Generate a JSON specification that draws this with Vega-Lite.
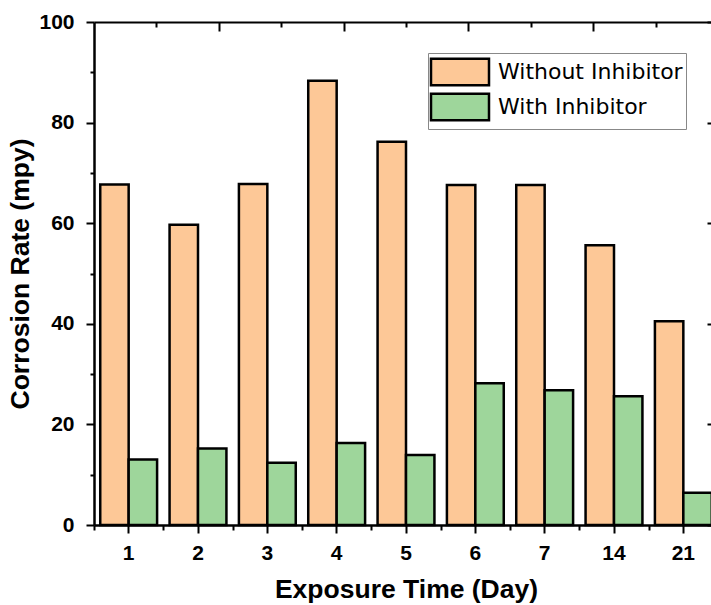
{
  "$schema": "https://vega.github.io/schema/vega-lite/v6.json",
  "width": 617,
  "height": 503,
  "autosize": {"type": "none"},
  "padding": {"left": 94, "top": 22, "right": 0, "bottom": 80},
  "background": "white",
  "config": {
    "view": {"stroke": null},
    "axis": {"grid": false, "domainColor": "black", "tickColor": "black", "labelColor": "black", "titleColor": "black"}
  },
  "data": {
    "values": [
      {"Day": "1", "Series": "Without Inhibitor", "Rate": 67.7},
      {"Day": "1", "Series": "With Inhibitor", "Rate": 13.0},
      {"Day": "2", "Series": "Without Inhibitor", "Rate": 59.7},
      {"Day": "2", "Series": "With Inhibitor", "Rate": 15.2},
      {"Day": "3", "Series": "Without Inhibitor", "Rate": 67.8},
      {"Day": "3", "Series": "With Inhibitor", "Rate": 12.4},
      {"Day": "4", "Series": "Without Inhibitor", "Rate": 88.3},
      {"Day": "4", "Series": "With Inhibitor", "Rate": 16.3},
      {"Day": "5", "Series": "Without Inhibitor", "Rate": 76.2},
      {"Day": "5", "Series": "With Inhibitor", "Rate": 13.9},
      {"Day": "6", "Series": "Without Inhibitor", "Rate": 67.6},
      {"Day": "6", "Series": "With Inhibitor", "Rate": 28.2},
      {"Day": "7", "Series": "Without Inhibitor", "Rate": 67.6},
      {"Day": "7", "Series": "With Inhibitor", "Rate": 26.8},
      {"Day": "14", "Series": "Without Inhibitor", "Rate": 55.6},
      {"Day": "14", "Series": "With Inhibitor", "Rate": 25.6},
      {"Day": "21", "Series": "Without Inhibitor", "Rate": 40.5},
      {"Day": "21", "Series": "With Inhibitor", "Rate": 6.4}
    ]
  },
  "layer": [
    {
      "mark": {"type": "bar", "stroke": "black", "strokeWidth": 2.5, "strokeJoin": "miter"},
      "encoding": {
        "x": {
          "field": "Day", "type": "nominal",
          "sort": ["1", "2", "3", "4", "5", "6", "7", "14", "21"],
          "scale": {"range": [0, 624], "paddingInner": 0.18, "paddingOuter": 0.09},
          "axis": {
            "orient": "bottom", "title": "Exposure Time (Day)",
            "labelAngle": 0, "labelFont": "Liberation Sans", "labelFontWeight": "bold", "labelFontSize": 21,
            "labelPadding": 9, "tickSize": 8, "tickWidth": 2, "domainWidth": 2.5,
            "titleFont": "Liberation Sans", "titleFontWeight": "bold", "titleFontSize": 26.5, "titlePadding": 13
          }
        },
        "xOffset": {"field": "Series", "type": "nominal", "sort": ["Without Inhibitor", "With Inhibitor"], "scale": {"paddingInner": 0, "paddingOuter": 0}},
        "y": {
          "field": "Rate", "type": "quantitative",
          "scale": {"domain": [0, 100], "nice": false},
          "axis": {
            "orient": "left", "title": "Corrosion Rate (mpy)",
            "values": [0, 10, 20, 30, 40, 50, 60, 70, 80, 90, 100],
            "labelExpr": "datum.value % 20 === 0 ? datum.label : ''",
            "labelFont": "Liberation Sans", "labelFontWeight": "bold", "labelFontSize": 21, "labelPadding": 12,
            "tickSize": {"condition": {"test": "datum.value % 20 === 0", "value": 8}, "value": 4},
            "tickWidth": 2, "domainWidth": 2.5,
            "titleFont": "Liberation Sans", "titleFontWeight": "bold", "titleFontSize": 26.5, "titlePadding": 4
          }
        },
        "color": {
          "field": "Series", "type": "nominal",
          "sort": ["Without Inhibitor", "With Inhibitor"],
          "scale": {"domain": ["Without Inhibitor", "With Inhibitor"], "range": ["#FDC897", "#9ED69B"]},
          "legend": {
            "title": null, "orient": "none", "legendX": 334, "legendY": 31,
            "symbolType": "M-2,-0.92H2V0.92H-2Z", "symbolSize": 841,
            "symbolOffset": 13,
            "symbolStrokeColor": "black", "symbolStrokeWidth": 2.5, "symbolOpacity": 1,
            "labelFont": "DejaVu Sans", "labelFontSize": 22, "labelColor": "black", "labelOffset": 22,
            "labelLimit": 400, "rowPadding": -9, "padding": 3,
            "strokeColor": "#888888", "fillColor": "white"
          }
        }
      }
    },
    {
      "mark": {"type": "rule", "opacity": 0},
      "encoding": {
        "x": {
          "datum": 0, "type": "quantitative",
          "scale": {"domain": [0, 10], "range": [0, 624], "nice": false, "zero": false},
          "axis": {
            "orient": "top", "title": null, "labels": false,
            "values": [1, 2, 3, 4, 5, 6, 7, 8, 9, 10],
            "tickSize": {"condition": {"test": "datum.value % 2 === 0", "value": -9}, "value": -5},
            "tickWidth": 2, "domainWidth": 2
          }
        }
      }
    },
    {
      "mark": {"type": "rule", "opacity": 0},
      "encoding": {
        "x": {
          "datum": 0, "type": "quantitative",
          "scale": {"domain": [0, 9], "range": [0, 624], "nice": false, "zero": false},
          "axis": {
            "orient": "bottom", "title": null, "labels": false, "domain": false,
            "values": [0, 1, 2, 3, 4, 5, 6, 7, 8, 9],
            "tickSize": 5, "tickWidth": 2
          }
        }
      }
    },
    {
      "mark": {"type": "rule", "opacity": 0},
      "encoding": {
        "y": {
          "datum": 0, "type": "quantitative",
          "axis": {
            "orient": "right", "title": null, "labels": false, "offset": 7,
            "values": [0, 10, 20, 30, 40, 50, 60, 70, 80, 90, 100],
            "tickSize": {"condition": {"test": "datum.value % 20 === 0", "value": -11}, "value": -4},
            "tickWidth": 2, "domainWidth": 2
          }
        }
      }
    }
  ],
  "resolve": {"scale": {"x": "independent"}, "axis": {"x": "independent", "y": "independent"}}
}
